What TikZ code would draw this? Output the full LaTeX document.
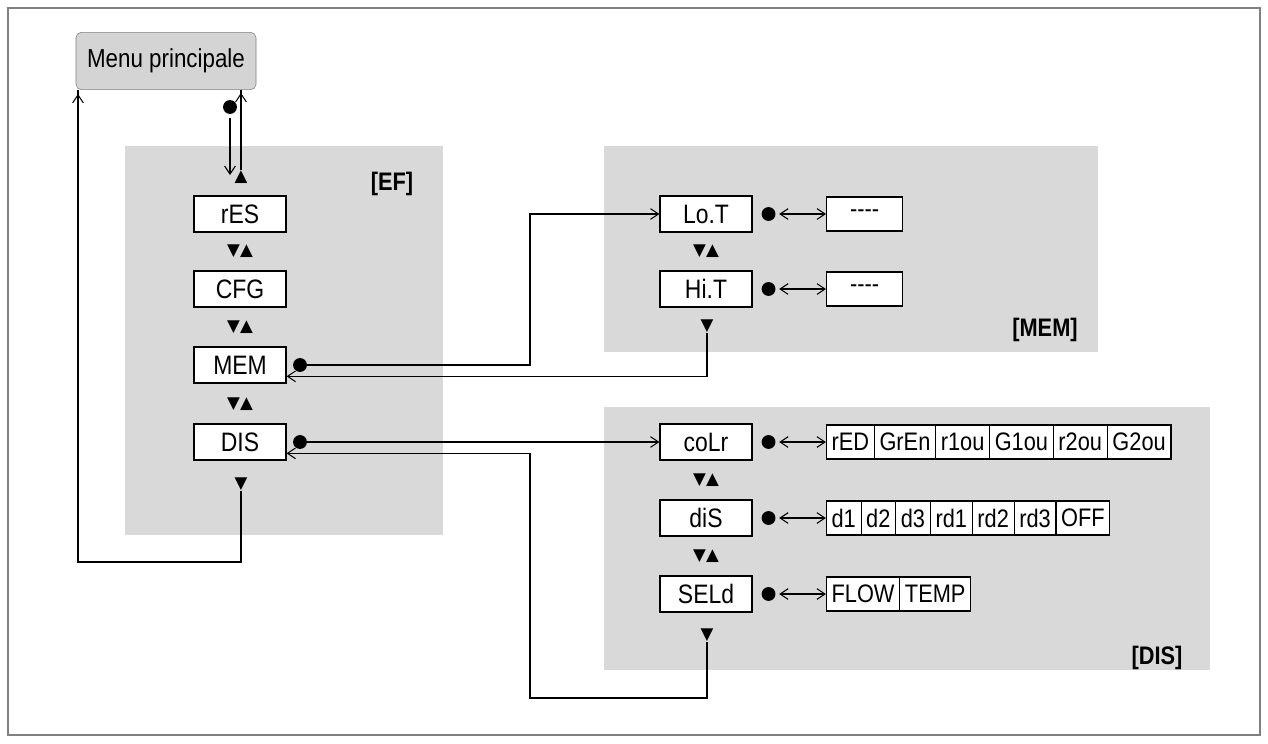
\documentclass[tikz,border=0pt]{standalone}
\usepackage{fontspec}
\setmainfont{Liberation Sans}[FakeStretch=0.86]
\newfontfamily\symfont{DejaVu Sans}
\usetikzlibrary{arrows.meta,positioning}
\definecolor{panelgray}{RGB}{217,217,217}
\definecolor{menugray}{RGB}{212,212,212}
\tikzstyle{panel} = [fill=panelgray, draw=none]
\tikzstyle{param} = [draw=black, thick, fill=white, minimum width=69pt,
    minimum height=27pt, inner sep=0pt, font=\fontsize{20}{20}\selectfont]
\tikzstyle{cell} = [draw=black, thick, fill=white, minimum height=25.5pt,
    inner ysep=2.5pt, inner xsep=3.9pt, font=\fontsize{19}{19}\selectfont]
\tikzstyle{tag} = [font=\bfseries\fontsize{19}{19}\selectfont]
\tikzstyle{updown} = [font=\symfont\fontsize{12.5}{12.5}\selectfont, inner sep=0pt]
\tikzstyle{link} = [thick, -{Straight Barb[length=6pt,width=8pt]}]
\tikzstyle{both} = [thick, {Straight Barb[length=6pt,width=8pt]}-{Straight Barb[length=6pt,width=8pt]}]
\newcommand{\dotat}[1]{\fill (#1) circle (5.2pt);}
\begin{document}
\begin{tikzpicture}[x=0.75pt,y=-0.75pt]
\useasboundingbox (0,0) rectangle (1268,743);
\draw[gray, thick] (8,8) rectangle (1260,735);
% panels
\fill[panel] (125,146) rectangle (443,535);
\fill[panel] (604,146) rectangle (1098,352);
\fill[panel] (604,407) rectangle (1210,670);
\node[tag] at (392,184) {[EF]};
\node[tag] at (1045,330) {[MEM]};
\node[tag] at (1157,658) {[DIS]};
% main menu
\node[draw=gray, fill=menugray, rounded corners=4pt, minimum width=135pt,
    minimum height=43pt, font=\fontsize{19.5}{19.5}\selectfont] (menu) at (166,61) {Menu principale};
% EF column
\node[param] (res) at (240,214) {rES};
\node[param] (cfg) at (240,289) {CFG};
\node[param] (mem) at (240,365) {MEM};
\node[param] (dis) at (240,442) {DIS};
\node[updown] (ud1) at (240,251) {▼▲};
\node[updown] (ud2) at (240,327) {▼▲};
\node[updown] (ud3) at (240,404) {▼▲};
\node[updown] (dn1) at (241,484) {▼};
\node[updown] (up0) at (241,177) {▲};
\coordinate (d0) at (230,107);
\dotat{d0}
\draw[link] (230,118) -- (230,175);
\draw[link] (up0.north) -- (up0.north |- menu.south) ++(0,3);
\coordinate (back) at (78,562);
\draw[link] (dn1.south) |- (back) -- (back |- menu.south) ++(0,4);
% MEM column
\node[param] (lot) at (706,214) {Lo.T};
\node[param] (hit) at (706,289) {Hi.T};
\node[updown] (ud4) at (706,251) {▼▲};
\node[updown] (dn2) at (707,326) {▼};
\node[cell, minimum width=57pt, anchor=west] (vlot) at (826,214) {{-}{-}{-}{-}};
\node[cell, minimum width=57pt, anchor=west] (vhit) at (826,289) {{-}{-}{-}{-}};
\foreach \p in {lot,hit} {
  \coordinate (dot\p) at ([xshift=12pt]\p.east);
  \dotat{dot\p}
  \draw[both] ([xshift=8pt]dot\p) -- (v\p.west);
}
\coordinate (memdot) at (300,365);
\dotat{memdot}
\draw[link] (memdot) -- (530,365) |- (lot.west);
\draw[link] (dn2.south) |- ([yshift=-8.5pt]mem.east);
% DIS column
\node[param] (col) at (706,442) {coLr};
\node[param] (dsp) at (706,518) {diS};
\node[param] (sel) at (706,594) {SELd};
\node[updown] (ud5) at (706,480) {▼▲};
\node[updown] (ud6) at (706,556) {▼▲};
\node[updown] (dn3) at (707,635) {▼};
\foreach \p in {col,dsp,sel} {
  \coordinate (dot\p) at ([xshift=12pt]\p.east);
  \dotat{dot\p}
  \coordinate (arr\p) at ([xshift=43pt]dot\p);
  \draw[both] ([xshift=8pt]dot\p) -- (arr\p);
}
\node[cell, anchor=west] (c1) at (arrcol) {rED};
\node[cell, right=-0.8pt of c1] (c2) {GrEn};
\node[cell, right=-0.8pt of c2] (c3) {r1ou};
\node[cell, right=-0.8pt of c3] (c4) {G1ou};
\node[cell, right=-0.8pt of c4] (c5) {r2ou};
\node[cell, right=-0.8pt of c5] (c6) {G2ou};
\node[cell, anchor=west] (s1) at (arrdsp) {d1};
\node[cell, right=-0.8pt of s1] (s2) {d2};
\node[cell, right=-0.8pt of s2] (s3) {d3};
\node[cell, right=-0.8pt of s3] (s4) {rd1};
\node[cell, right=-0.8pt of s4] (s5) {rd2};
\node[cell, right=-0.8pt of s5] (s6) {rd3};
\node[cell, right=-0.8pt of s6] (s7) {OFF};
\node[cell, anchor=west] (f1) at (arrsel) {FLOW};
\node[cell, right=-0.8pt of f1] (f2) {TEMP};
\coordinate (disdot) at (300,442);
\dotat{disdot}
\draw[link] (disdot) -- (col.west);
\draw[link] (dn3.south) |- (530,698) |- ([yshift=-8.5pt]dis.east);
\end{tikzpicture}
\end{document}
